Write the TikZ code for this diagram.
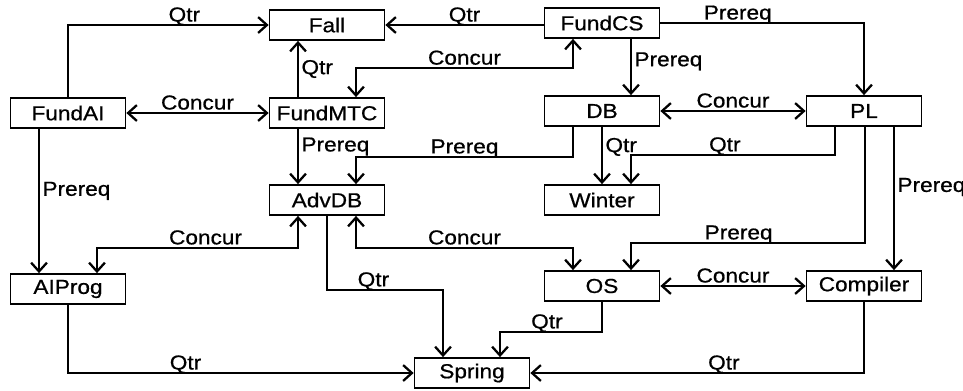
\documentclass[tikz,border=0pt]{standalone}
\usepackage{fontspec}
\setmainfont{Liberation Sans}[FakeStretch=1.12,FakeBold=0.7]
\usetikzlibrary{arrows.meta}
\tikzset{
  course/.style={draw, line width=1pt, minimum width=2.3cm, minimum height=0.6cm,
    inner sep=0pt, font=\fontsize{11.5}{13}\selectfont},
  rel/.style={line width=0.95pt, >={Straight Barb[length=5pt,width=9pt,line width=1.3pt]}},
  lbl/.style={anchor=base, yshift=2pt, inner sep=0pt, font=\fontsize{11.5}{13}\selectfont},
  side/.style={anchor=west, inner sep=1.5pt, font=\fontsize{11.5}{13}\selectfont}
}
\begin{document}
\begin{tikzpicture}[x=0.02cm, y=-0.02cm]
      \useasboundingbox (0,0) rectangle (963,390);
      \draw
        (327,25) node[course] (Fall){Fall}
        (602,23) node[course] (FundCS){FundCS}
        (68,113) node[course] (FundAI){FundAI}
        (327,113) node[course] (FundMTC){FundMTC}
        (602,111) node[course] (DB){DB}
        (864,111) node[course] (PL){PL}
        (327,200) node[course] (AdvDB){AdvDB}
        (602,200) node[course] (Winter){Winter}
        (68,289) node[course] (AIProg){AIProg}
        (602,286) node[course] (OS){OS}
        (864,286) node[course] (Compiler){Compiler}
        (472,373) node[course] (Spring){Spring};
      \begin{scope}[rel]
        % quarters
        \draw[->] (FundAI.north) |- (Fall.west) node[lbl, pos=0.79]{Qtr};
        \draw[->] (FundCS.west |- Fall.east) -- (Fall.east) node[lbl, midway]{Qtr};
        \draw[->] ([xshift=-.58cm]FundMTC.north) -- ([xshift=-.58cm]Fall.south) node[side, midway]{Qtr};
        \draw[->] (DB.south) -- (Winter.north) node[side, pos=0.35]{Qtr};
        \draw[->] ([xshift=-.58cm]PL.south) -- ++(0,28) -| ([xshift=.58cm]Winter.north) node[lbl, pos=0.27]{Qtr};
        \draw[->] (AdvDB.south) -- ++(0,74) -| ([xshift=-.58cm]Spring.north) node[lbl, pos=0.2]{Qtr};
        \draw[->] (AIProg.south) |- (Spring.west) node[lbl, pos=0.67]{Qtr};
        \draw[->] (OS.south) -- ++(0,30) -| ([xshift=.56cm]Spring.north) node[lbl, pos=0.27]{Qtr};
        \draw[->] (Compiler.south) |- (Spring.east) node[lbl, pos=0.71]{Qtr};
        % prerequisites
        \draw[->] ([xshift=.58cm]FundCS.south) -- ([xshift=.58cm]DB.north) node[side, pos=0.4]{Prereq};
        \draw[->] (FundCS.east) -| (PL.north) node[lbl, pos=0.19]{Prereq};
        \draw[->] ([xshift=-.58cm]FundMTC.south) -- ([xshift=-.58cm]AdvDB.north) node[side, pos=0.32]{Prereq};
        \draw[->] ([xshift=-.58cm]DB.south) -- ++(0,30) -| ([xshift=.58cm]AdvDB.north) node[lbl, pos=0.25]{Prereq};
        \draw[->] ([xshift=-.58cm]FundAI.south) -- ([xshift=-.58cm]AIProg.north) node[side, pos=0.43]{Prereq};
        \draw[->] ([xshift=.02cm]PL.south) -- ++(0,116) -| ([xshift=.58cm]OS.north) node[lbl, pos=0.27]{Prereq};
        \draw[->] ([xshift=.6cm]PL.south) -- ([xshift=.6cm]Compiler.north) node[side, pos=0.42]{Prereq};
        % concurrent
        \draw[<->] (FundAI.east) -- (FundMTC.west) node[lbl, midway]{Concur};
        \draw[<->] ([xshift=.58cm]FundMTC.north) -- ++(0,-29) -| ([xshift=-.58cm]FundCS.south) node[lbl, pos=0.25]{Concur};
        \draw[<->] (DB.east) -- (PL.west) node[lbl, midway]{Concur};
        \draw[<->] ([xshift=-.58cm]AdvDB.south) -- ++(0,32) -| ([xshift=.58cm]AIProg.north) node[lbl, pos=0.23]{Concur};
        \draw[<->] ([xshift=.58cm]AdvDB.south) -- ++(0,32) -| ([xshift=-.58cm]OS.north) node[lbl, pos=0.25]{Concur};
        \draw[<->] (OS.east) -- (Compiler.west) node[lbl, midway]{Concur};
      \end{scope}
    \end{tikzpicture}
\end{document}
